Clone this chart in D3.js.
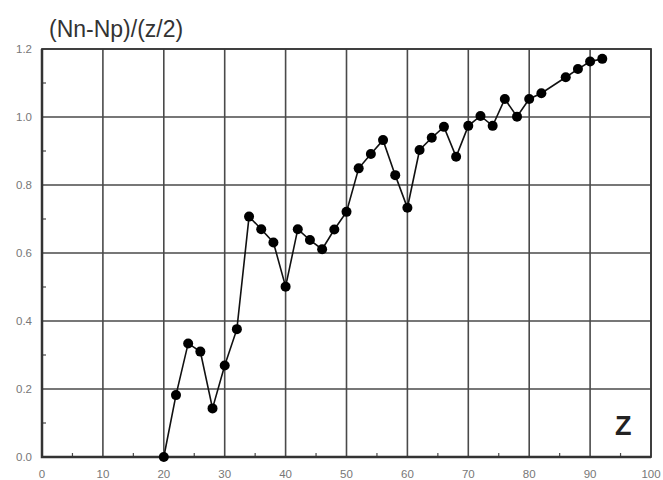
<!DOCTYPE html>
<html>
<head>
<meta charset="utf-8">
<script src="https://cdn.jsdelivr.net/npm/d3@7"></script>
<style>
  body { margin: 0; background: #fff; }
  svg { display: block; font-family: "Liberation Sans", Arial, sans-serif; }
</style>
</head>
<body>
<div class="svg-container"></div>
<script>
// values
var zValues = [20, 22, 24, 26, 28, 30, 32, 34, 36, 38, 40, 42, 44, 46, 48, 50,
  52, 54, 56, 58, 60, 62, 64, 66, 68, 70, 72, 74, 76, 78, 80, 82, 86, 88, 90, 92];
var ratioValues = [0.0, 0.182, 0.334, 0.31, 0.143, 0.269, 0.376, 0.707, 0.67, 0.631, 0.501, 0.67, 0.638, 0.611, 0.669, 0.721,
  0.849, 0.891, 0.932, 0.829, 0.733, 0.903, 0.939, 0.971, 0.883, 0.974, 1.003, 0.974, 1.053, 1.001, 1.053, 1.07, 1.117, 1.141, 1.163, 1.171];
var xTicks = [0, 10, 20, 30, 40, 50, 60, 70, 80, 90, 100];
var yTicks = [0.0, 0.2, 0.4, 0.6, 0.8, 1.0, 1.2];

var chart = {
  mainSelect: '.svg-container',
  width: 663,
  height: 480,
  margin: { left: 42, right: 12, top: 49, bottom: 23 },
  gridColor: '#4a4a4a',
  labelColor: '#777',
  makeChart() {
    var m = chart.margin;
    var svg = d3.select(chart.mainSelect).append('svg')
      .attr('width', chart.width)
      .attr('height', chart.height);

    var x = d3.scaleLinear().domain([0, 100]).range([m.left, chart.width - m.right]);
    var y = d3.scaleLinear().domain([0, 1.2]).range([chart.height - m.bottom, m.top]);

    // grid
    svg.append('g').selectAll('line.vgrid')
      .data(xTicks)
      .join('line')
      .attr('x1', d => x(d)).attr('x2', d => x(d))
      .attr('y1', y(0)).attr('y2', y(1.2))
      .attr('stroke', chart.gridColor)
      .attr('stroke-width', 1.6);
    svg.append('g').selectAll('line.hgrid')
      .data(yTicks)
      .join('line')
      .attr('x1', x(0)).attr('x2', x(100))
      .attr('y1', d => y(d)).attr('y2', d => y(d))
      .attr('stroke', chart.gridColor)
      .attr('stroke-width', 1.6);

    // minor ticks, pointing inward
    svg.append('g').selectAll('line')
      .data(d3.range(5, 100, 10))
      .join('line')
      .attr('x1', d => x(d)).attr('x2', d => x(d))
      .attr('y1', y(0)).attr('y2', y(0) - 4)
      .attr('stroke', chart.gridColor).attr('stroke-width', 1.2);
    svg.append('g').selectAll('line')
      .data([0.1, 0.3, 0.5, 0.7, 0.9, 1.1])
      .join('line')
      .attr('x1', x(0)).attr('x2', x(0) + 4)
      .attr('y1', d => y(d)).attr('y2', d => y(d))
      .attr('stroke', chart.gridColor).attr('stroke-width', 1.2);

    // frame, heavier on left and bottom
    svg.append('rect')
      .attr('x', x(0)).attr('y', y(1.2))
      .attr('width', x(100) - x(0)).attr('height', y(0) - y(1.2))
      .attr('fill', 'none').attr('stroke', '#3a3a3a').attr('stroke-width', 1.8);
    svg.append('path')
      .attr('d', 'M' + x(0) + ',' + y(1.2) + 'V' + y(0) + 'H' + x(100))
      .attr('fill', 'none').attr('stroke', '#333').attr('stroke-width', 2.5);

    // tick labels
    svg.append('g').selectAll('text')
      .data(xTicks)
      .join('text')
      .attr('x', d => x(d)).attr('y', 478)
      .attr('text-anchor', 'middle')
      .attr('font-size', 11.5)
      .attr('fill', chart.labelColor)
      .text(d => d);
    svg.append('g').selectAll('text')
      .data(yTicks)
      .join('text')
      .attr('x', 32).attr('y', d => y(d) + 4)
      .attr('text-anchor', 'end')
      .attr('font-size', 11.5)
      .attr('fill', chart.labelColor)
      .text(d => d.toFixed(1));

    // data line and dots
    var pts = zValues.map((z, i) => [z, ratioValues[i]]);
    svg.append('path')
      .datum(pts)
      .attr('d', d3.line().x(d => x(d[0])).y(d => y(d[1])))
      .attr('fill', 'none')
      .attr('stroke', '#111')
      .attr('stroke-width', 1.6);
    svg.append('g').selectAll('circle')
      .data(pts)
      .join('circle')
      .attr('cx', d => x(d[0])).attr('cy', d => y(d[1]))
      .attr('r', 5)
      .attr('fill', '#000');

    // titles
    svg.append('text')
      .attr('x', 49).attr('y', 37)
      .attr('font-size', 23)
      .attr('fill', '#333')
      .text('(Nn-Np)/(z/2)');
    svg.append('text')
      .attr('x', 615).attr('y', 435)
      .attr('font-size', 27)
      .attr('font-weight', 'bold')
      .attr('fill', '#222')
      .text('Z');
  }
};

document.addEventListener('DOMContentLoaded', function() {
  chart.makeChart();
});
</script>
</body>
</html>
